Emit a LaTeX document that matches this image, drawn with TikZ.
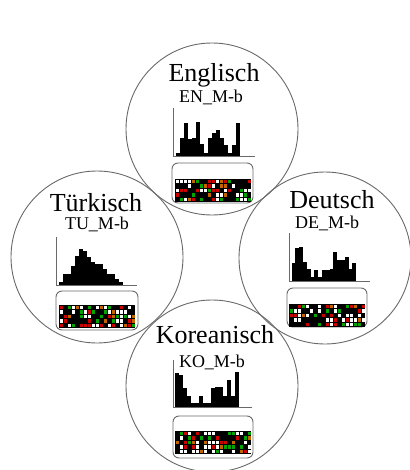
\documentclass[tikz,border=0pt]{standalone}
\usepackage{fontspec}
\setmainfont{Liberation Serif}
\usetikzlibrary{positioning}
\definecolor{ringgray}{RGB}{105,105,105}
\definecolor{cellred}{RGB}{205,0,0}
\definecolor{cellgreen}{RGB}{0,165,0}
\definecolor{cellbrown}{RGB}{195,100,0}

\tikzset{
  lang/.style={circle, draw=ringgray, line width=0.9, minimum size=172, inner sep=0},
  langname/.style={font=\fontsize{26}{26}\selectfont, anchor=base, inner sep=0},
  langcode/.style={font=\fontsize{18}{18}\selectfont, anchor=base, inner sep=0},
  axis/.style={draw=ringgray, line width=0.8},
  panel/.style={draw=ringgray, line width=0.9, rounded corners=6},
}

% 19 x 5 coloured cells on black, lower left corner at #1,#2
\newcommand{\cellgrid}[2]{%
  \fill[black] (#1,#2) rectangle ++(76,-23);
  \foreach \c in {0,...,18}{
    \foreach \r in {0,...,4}{
      \pgfmathrandominteger{\k}{0}{12}
      \edef\cellcol{\ifcase\k black\or black\or black\or black\or black\or white\or white\or white\or cellred\or cellred\or cellgreen\or cellgreen\or cellbrown\fi}
      \fill[\cellcol] (#1+0.7+4*\c,#2-0.6-4.6*\r) rectangle ++(2.8,-3.4);
    }
  }
}

\begin{document}
\begin{tikzpicture}[x=1pt, y=-1pt]
    \useasboundingbox (0,0) rectangle (409,470);
    \pgfmathsetseed{4711}

    % the four languages
    \node[lang] (en) at (212,129) {};
    \node[lang] (tu) at (97,257) {};
    \node[lang] (de) at (325,258) {};
    \node[lang] (ko) at (212,386) {};

    % Englisch
    \node[langname] (en-name) at (214,82) {Englisch};
    \node[langcode] (en-code) at (211,103) {EN\_M-b};
    \foreach \h [count=\i from 0] in {3,18,33,17,18,34,12,3,18,23,26,18,11,3,11,33}
        \fill (176+4*\i,156) rectangle ++(4,-\h);
    \draw[axis] (173,108) |- (255,156);
    \draw[panel] (172,163) rectangle (253,203);
    \cellgrid{175}{202}

    % Tuerkisch
    \node[langname] (tu-name) at (96,211) {Türkisch};
    \node[langcode] (tu-code) at (97,229) {TU\_M-b};
    \foreach \h [count=\i from 0] in {3,11,11,19,29,36,34,28,23,21,21,16,11,11,6,3}
        \fill (59+4*\i,285) rectangle ++(4,-\h);
    \draw[axis] (56,237) |- (137,285);
    \draw[panel] (56,291) rectangle (138,330);
    \cellgrid{59}{328}

    % Deutsch
    \node[langname] (de-name) at (332,208) {Deutsch};
    \node[langcode] (de-code) at (327,228) {DE\_M-b};
    \foreach \h [count=\i from 0] in {18,33,34,19,12,4,11,4,11,11,12,29,21,21,24,12,18}
        \fill (291.5+3.8*\i,281) rectangle ++(3.8,-\h);
    \draw[axis] (289,233) |- (370,281);
    \draw[panel] (287,288) rectangle (367,327);
    \cellgrid{289}{327}

    % Koreanisch
    \node[langname] (ko-name) at (215,343) {Koreanisch};
    \node[langcode] (ko-code) at (212,367) {KO\_M-b};
    \foreach \h [count=\i from 0] in {34,32,19,11,4,4,11,4,4,19,20,20,11,27,11,35}
        \fill (175+4*\i,407) rectangle ++(4,-\h);
    \draw[axis] (173,360) |- (252,407);
    \draw[panel] (173,416) rectangle (253,458);
    \cellgrid{175}{454}
\end{tikzpicture}
\end{document}
